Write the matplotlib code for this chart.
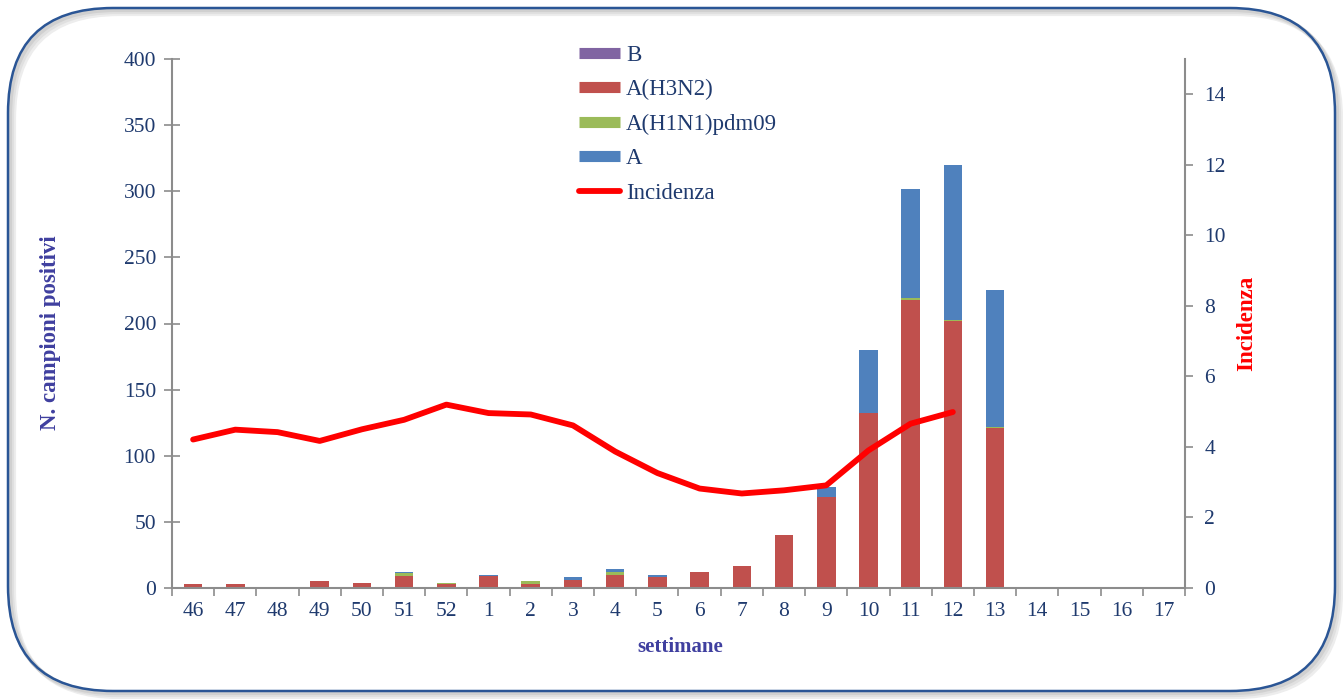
import matplotlib
matplotlib.use('Agg')
import matplotlib.pyplot as plt
import numpy as np
from matplotlib.patches import FancyBboxPatch
from matplotlib.lines import Line2D

weeks = ['46', '47', '48', '49', '50', '51', '52', '1', '2', '3', '4', '5',
         '6', '7', '8', '9', '10', '11', '12', '13', '14', '15', '16', '17']
b_vals = [1, 0, 0, 1, 1, 1, 0, 0, 0, 0, 0, 0, 0, 0, 0, 0, 0, 0, 0, 0, 0, 0, 0, 0]
h3n2 = [2, 3, 0, 4, 3, 8, 3, 9, 3, 6, 10, 8, 12, 17, 40, 69, 132, 218, 202, 121, 0, 0, 0, 0]
h1n1 = [0, 0, 0, 0, 0, 2, 1, 0, 2, 0, 2, 0, 0, 0, 0, 0, 0, 1, 1, 1, 0, 0, 0, 0]
a_vals = [0, 0, 1, 0, 0, 1, 0, 1, 0, 2, 2, 2, 0, 0, 0, 7, 48, 83, 117, 103, 0, 0, 0, 0]
incidenza = [4.21, 4.49, 4.42, 4.17, 4.5, 4.77, 5.2, 4.96, 4.92, 4.61, 3.87, 3.26,
             2.82, 2.68, 2.77, 2.91, 3.9, 4.66, 4.99]

c_b = '#8064A2'
c_h3 = '#C0504D'
c_h1 = '#9BBB59'
c_a = '#4F81BD'
navy = '#1F3A6E'
lab_col = '#3F3F9F'
spine_col = '#8C8C8C'

plt.rcParams['font.family'] = ['Liberation Serif', 'DejaVu Serif']

fig = plt.figure(figsize=(13.43, 6.99), dpi=100)

# rounded frame with soft shadow
W, H = 13.43, 6.99
for off, col in [(0.06, '#EDEDED'), (0.04, '#E0E0E0'), (0.02, '#D0D0D0')]:
    sh = FancyBboxPatch((0.08 + off, 0.08 - off), W - 0.16, H - 0.16,
                        boxstyle='round,pad=0,rounding_size=1.05',
                        transform=fig.dpi_scale_trans, facecolor='none',
                        edgecolor=col, linewidth=3, zorder=0)
    fig.patches.append(sh)
frame = FancyBboxPatch((0.08, 0.08), W - 0.16, H - 0.16,
                       boxstyle='round,pad=0,rounding_size=1.05',
                       transform=fig.dpi_scale_trans, facecolor='none',
                       edgecolor='#2A5595', linewidth=1.8, zorder=1)
fig.patches.append(frame)

ax = fig.add_axes([172 / 1343, 1 - 588 / 699, 1013 / 1343, 529 / 699])
ax.patch.set_alpha(0)
x = np.arange(len(weeks))
w = 0.44

bottom = np.zeros(len(weeks))
for vals, col in [(b_vals, c_b), (h3n2, c_h3), (h1n1, c_h1), (a_vals, c_a)]:
    ax.bar(x, vals, w, bottom=bottom, color=col, edgecolor='none', zorder=2)
    bottom += np.array(vals, dtype=float)

ax.set_xlim(-0.5, len(weeks) - 0.5)
ax.set_ylim(0, 400)
ax.set_yticks(range(0, 401, 50))
ax.set_xticks(x)
ax.set_xticklabels(weeks)
ax.set_xticks(np.arange(-0.5, len(weeks), 1), minor=True)
ax.tick_params(axis='x', which='major', length=0, colors=navy, labelsize=15.5, pad=10)
ax.tick_params(axis='x', which='minor', length=6, color=spine_col, width=1.2)
ax.tick_params(axis='y', direction='inout', length=11, color=spine_col, width=1.2,
               labelcolor=navy, labelsize=15.5, pad=6)
for s in ['top', 'right']:
    ax.spines[s].set_visible(False)
for s in ['left', 'bottom']:
    ax.spines[s].set_color(spine_col)
    ax.spines[s].set_linewidth(1.5)

ax.set_ylabel('N. campioni positivi', color=lab_col, fontsize=16.5, fontweight='bold')
ax.yaxis.set_label_coords(-0.11, 0.482)
ax.set_xlabel('settimane', color=lab_col, fontsize=15, fontweight='bold')
ax.xaxis.set_label_coords(0.5015, -0.092)

ax2 = ax.twinx()
ax2.plot(x[:len(incidenza)], incidenza, color='#FF0000', linewidth=4.2,
         solid_capstyle='round', solid_joinstyle='round', zorder=3)
ax2.set_ylim(0, 15)
ax2.set_yticks(range(0, 15, 2))
ax2.tick_params(axis='y', direction='out', length=6, color=spine_col, width=1.2,
                labelcolor=navy, labelsize=15.5, pad=8)
for s in ['top', 'left', 'bottom']:
    ax2.spines[s].set_visible(False)
ax2.spines['right'].set_color(spine_col)
ax2.spines['right'].set_linewidth(1.5)
ax2.set_ylabel('Incidenza', color='#FF0000', fontsize=16.5, fontweight='bold')
ax2.yaxis.set_label_coords(1.051, 0.50)

handles = [Line2D([], [], color=c_b, linewidth=8, solid_capstyle='butt'),
           Line2D([], [], color=c_h3, linewidth=8, solid_capstyle='butt'),
           Line2D([], [], color=c_h1, linewidth=8, solid_capstyle='butt'),
           Line2D([], [], color=c_a, linewidth=8, solid_capstyle='butt'),
           Line2D([], [], color='#FF0000', linewidth=4.2, solid_capstyle='round')]
labels = ['B', 'A(H3N2)', 'A(H1N1)pdm09', 'A', 'Incidenza']
leg = fig.legend(handles, labels, loc='upper left', bbox_to_anchor=(579 / 1343, 1 - 45 / 699),
                 frameon=False, fontsize=16.5, handlelength=1.8, handletextpad=0.26,
                 labelspacing=0.58, borderpad=0, borderaxespad=0)
for t in leg.get_texts():
    t.set_color(navy)

fig.savefig('out.png', dpi=100)
